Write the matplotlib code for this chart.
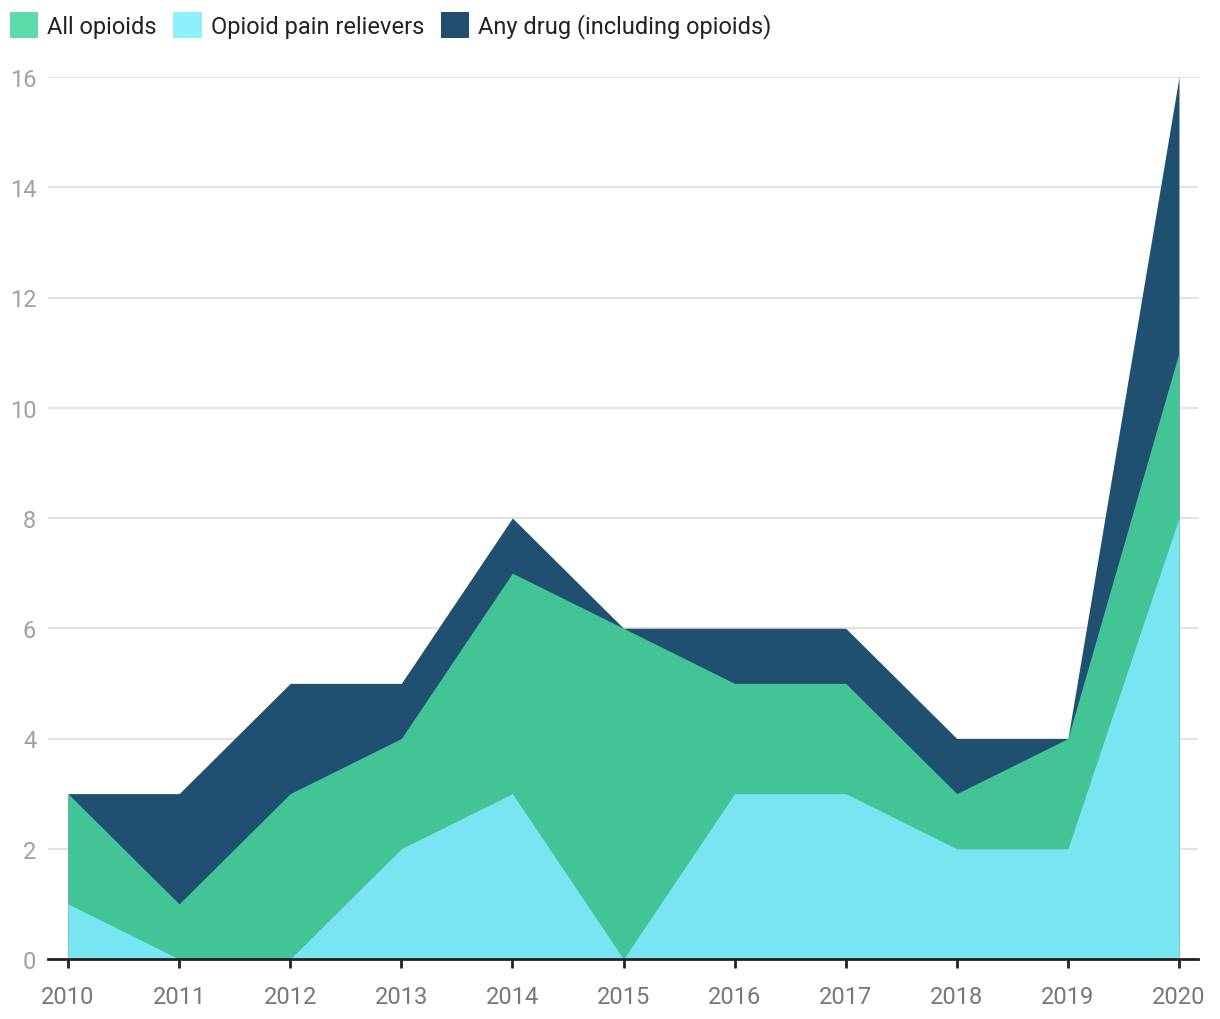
import matplotlib.pyplot as plt
from matplotlib.patches import Patch

plt.rcParams['font.family'] = ['Roboto', 'DejaVu Sans']

years = [2010, 2011, 2012, 2013, 2014, 2015, 2016, 2017, 2018, 2019, 2020]
any_drug = [3, 3, 5, 5, 8, 6, 6, 6, 4, 4, 16]
all_opioids = [3, 1, 3, 4, 7, 6, 5, 5, 3, 4, 11]
pain_relievers = [1, 0, 0, 2, 3, 0, 3, 3, 2, 2, 8]

labels = ["All opioids", "Opioid pain relievers", "Any drug (including opioids)"]
legend_colors = ["#5ddba8", "#8ef0fb", "#1f4e6e"]
fill_dark = "#1f5070"
fill_green = "#42c496"
fill_cyan = "#77e6f0"

fig = plt.figure(figsize=(12.2, 10.2), dpi=100)
W, H = 1220, 1020
ax = fig.add_axes([48 / W, (H - 960) / H, (1198 - 48) / W, (960 - 78) / H])

px_per_year = (1179 - 68) / 10
ax.set_xlim(2010 - 20 / px_per_year, 2020 + 19 / px_per_year)
ax.set_ylim(0, 16)

ax.fill_between(years, 0, any_drug, color=fill_dark, lw=0, zorder=2)
ax.fill_between(years, 0, all_opioids, color=fill_green, lw=0, zorder=3)
ax.fill_between(years, 0, pain_relievers, color=fill_cyan, lw=0, zorder=4)

ax.set_yticks(range(0, 17, 2))
ax.set_xticks(years)
ax.grid(axis='y', color='#e3e3e3', lw=1.5, zorder=0)
ax.set_axisbelow(True)

for s in ['top', 'right', 'left']:
    ax.spines[s].set_visible(False)
ax.spines['bottom'].set_color('#222222')
ax.spines['bottom'].set_linewidth(2)
ax.spines['bottom'].set_zorder(5)

ax.tick_params(axis='x', length=6.5, width=2, color='#222222', labelsize=17,
               labelcolor='#777777', pad=12.5)
ax.tick_params(axis='y', length=0, labelsize=17, labelcolor='#a0a0a0', pad=8.5)

handles = [Patch(facecolor=c, edgecolor='none') for c in legend_colors]
fig.legend(handles, labels, loc='upper left', bbox_to_anchor=(0.0, 1 - 3 / H),
           ncol=3, frameon=False, fontsize=17, handlelength=1.19,
           handleheight=1.3, handletextpad=0.38, columnspacing=0.72,
           borderpad=0.4, borderaxespad=0.02, labelcolor='#222222')

fig.savefig("out.png", dpi=100, facecolor='white')
